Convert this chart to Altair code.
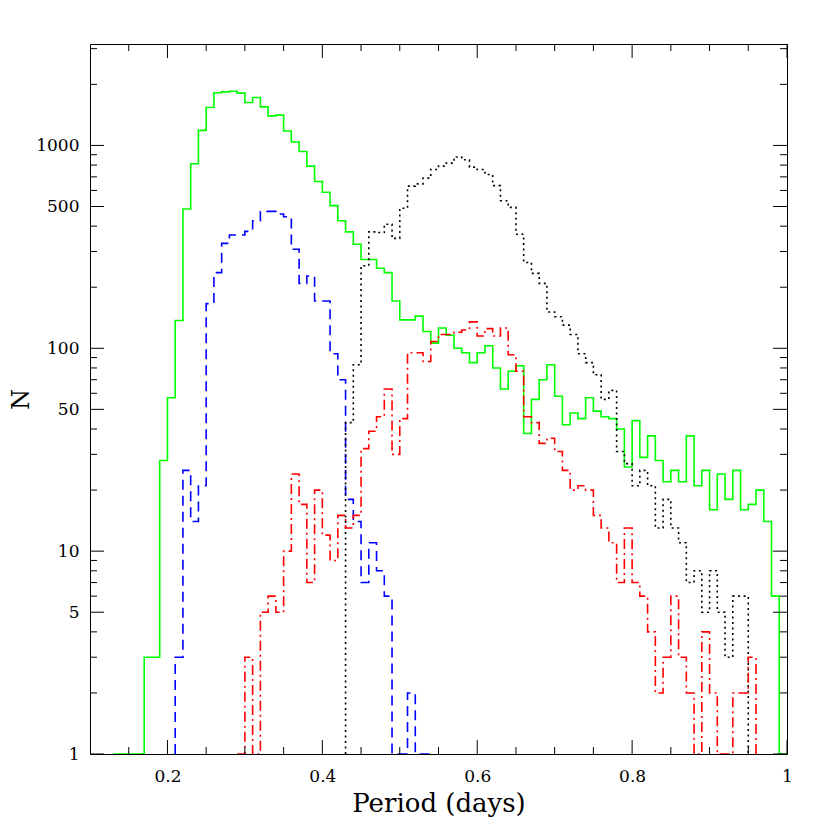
import altair as alt
import pandas as pd

BIN = 0.01

# Histogram counts per 0.01-day bin (left edge = start + i*BIN)
green_start = 0.13
green_counts = [1, 1, 1, 1, 3, 3, 28, 57, 137, 486, 812, 1187, 1537, 1817, 1837, 1850,
                1810, 1627, 1723, 1549, 1399, 1410, 1178, 1040, 934, 791, 664, 588, 505,
                425, 375, 326, 274, 274, 248, 236, 171, 138, 138, 144, 121, 106, 126, 116,
                100, 95, 85, 95, 103, 80, 63, 77, 82, 38, 56, 70, 83, 58, 42, 48, 45, 57,
                49, 46, 45, 40, 26, 44, 29, 37, 28, 22, 25, 22, 37, 21, 25, 16, 24, 18, 25,
                16, 17, 20, 14, 6, 1]

blue_start = 0.21
blue_counts = [3, 25, 14, 21, 166, 236, 329, 362, 362, 377, 425, 473, 473, 459, 445, 308,
               209, 227, 171, 171, 94, 70, 18, 14, 7, 11, 8, 6, 1, 1, 2, 1, 1]

black_start = 0.43
black_counts = [43, 83, 255, 375, 372, 409, 348, 490, 630, 646, 690, 761, 791, 818, 877,
                850, 782, 761, 719, 634, 534, 495, 365, 265, 234, 209, 151, 143, 130, 117,
                94, 85, 74, 56, 62, 31, 27, 21, 25, 21, 13, 18, 13, 11, 7, 8, 5, 8, 5, 3,
                6, 6]

red_start = 0.29
red_counts = [1, 3, 1, 5, 6, 5, 10, 24, 17, 7, 20, 12, 9, 15, 13, 15, 32, 39, 46, 63, 30,
              45, 95, 95, 86, 108, 117, 117, 120, 123, 135, 115, 125, 115, 126, 93, 77, 46,
              43, 34, 36, 31, 25, 20, 21, 20, 15, 13, 11, 7, 13, 7, 6, 4, 2, 3, 6, 3, 2, 1,
              4, 2, 1, 1, 2, 2, 3]

x_labels = [0.2, 0.4, 0.6, 0.8, 1.0]
x_minor = [0.15, 0.25, 0.3, 0.35, 0.45, 0.5, 0.55, 0.65, 0.7, 0.75, 0.85, 0.9, 0.95]
y_labels = [1, 5, 10, 50, 100, 500, 1000]
y_minor = [2, 3, 4, 6, 7, 8, 9, 20, 30, 40, 60, 70, 80, 90, 200, 300, 400, 600, 700,
           800, 900, 2000, 3000]

W, H = 697, 710
FONT = "DejaVu Serif"


def steps(start, counts):
    edges = [round(start + i * BIN, 2) for i in range(len(counts) + 1)]
    pts = [(edges[0], 1)]
    for i, c in enumerate(counts):
        pts.append((edges[i], c))
        pts.append((edges[i + 1], c))
    pts.append((edges[-1], 1))
    return pd.DataFrame({"P": [p for p, _ in pts], "N": [n for _, n in pts],
                         "idx": list(range(len(pts)))})


xscale = alt.Scale(domain=[0.1, 1.0], nice=False, zero=False)
yscale = alt.Scale(type="log", domain=[1, 3162.28], nice=False)

XENC = alt.X("P:Q", scale=xscale, axis=alt.Axis(
    values=x_labels, labelExpr="datum.value == 1 ? '1' : format(datum.value, '.1f')",
    ticks=False, tickSize=0, domain=False, grid=False, labelFont=FONT, labelFontSize=17,
    labelColor="black", labelPadding=14, labelFlush=False,
    title="Period (days)", titleFont=FONT, titleFontSize=26,
    titleFontWeight="normal", titleColor="black", titlePadding=6))
YENC = alt.Y("N:Q", scale=yscale, axis=alt.Axis(
    values=y_labels, format="d", ticks=False, tickSize=0, domain=False, grid=False,
    labelFont=FONT, labelFontSize=17, labelColor="black", labelPadding=11,
    labelFlush=False, title="N", titleFont=FONT, titleFontSize=24,
    titleFontWeight="normal", titleColor="black", titlePadding=2))


def line(df, color, dash):
    props = dict(color=color, strokeWidth=1.6, clip=True, strokeCap="butt")
    if dash:
        props["strokeDash"] = dash
    return alt.Chart(df).mark_line(**props).encode(x=XENC, y=YENC, order="idx:Q")


layers = [
    line(steps(green_start, green_counts), "#00ff00", None),
    line(steps(blue_start, blue_counts), "#0000ff", [10, 6]),
    line(steps(black_start, black_counts), "#000000", [2, 3.5]),
    line(steps(red_start, red_counts), "#ff0000", [10, 4, 2, 4]),
]

xt_major = pd.DataFrame({"P": x_labels})
xt_minor = pd.DataFrame({"P": x_minor})
yt_major = pd.DataFrame({"N": y_labels})
yt_minor = pd.DataFrame({"N": y_minor})


def xticks(df, length):
    bot = alt.Chart(df).mark_rule(color="black", strokeWidth=1).encode(
        x=XENC, y=alt.value(H), y2=alt.value(H - length))
    top = alt.Chart(df).mark_rule(color="black", strokeWidth=1).encode(
        x=XENC, y=alt.value(0), y2=alt.value(length))
    return [bot, top]


def yticks(df, length):
    left = alt.Chart(df).mark_rule(color="black", strokeWidth=1).encode(
        y=YENC, x=alt.value(0), x2=alt.value(length))
    right = alt.Chart(df).mark_rule(color="black", strokeWidth=1).encode(
        y=YENC, x=alt.value(W), x2=alt.value(W - length))
    return [left, right]


tick_layers = (xticks(xt_major, 14) + xticks(xt_minor, 7) +
               yticks(yt_major, 14) + yticks(yt_minor, 7))

chart = alt.layer(*layers, *tick_layers).properties(
    width=W, height=H,
    autosize=alt.AutoSizeParams(type="none"),
    padding={"left": 82, "top": 36, "right": 27, "bottom": 70},
    background="white",
).configure_view(stroke="black", strokeWidth=1)

chart.save("out.html", embed_options={"renderer": "svg", "actions": False})
